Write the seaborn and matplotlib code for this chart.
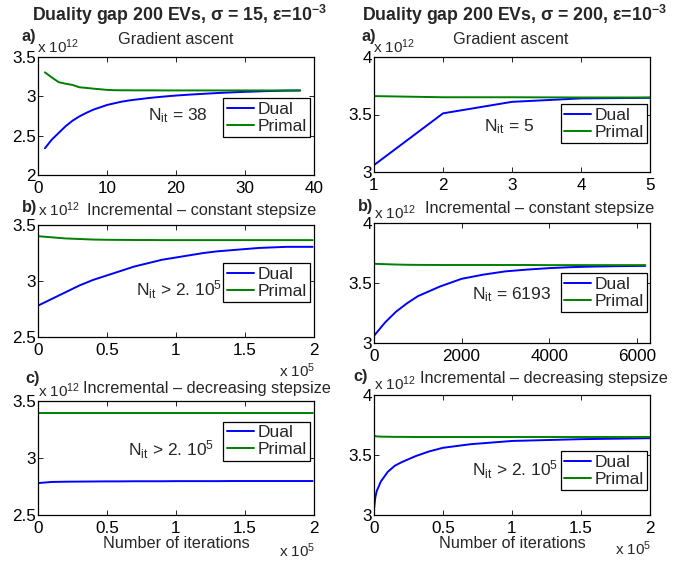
import matplotlib
matplotlib.use("Agg")
import matplotlib.pyplot as plt
import seaborn as sns
from matplotlib.ticker import FuncFormatter, FixedLocator

# ---------------- data (y in units of 1e12) ----------------
# Column 1: sigma = 15
ga15_iter = list(range(1, 39))
ga15_dual = [2.34, 2.45, 2.535, 2.62, 2.69, 2.745, 2.79, 2.83, 2.86, 2.89,
             2.91, 2.93, 2.945, 2.957, 2.967, 2.978, 2.987, 2.995, 3.003, 3.01,
             3.016, 3.022, 3.027, 3.032, 3.037, 3.042, 3.046, 3.05, 3.054, 3.057,
             3.06, 3.063, 3.066, 3.068, 3.07, 3.072, 3.073, 3.074]
ga15_primal = [3.305, 3.24, 3.18, 3.16, 3.145, 3.115, 3.107, 3.098, 3.09, 3.082,
               3.078, 3.077, 3.077, 3.076, 3.076, 3.076, 3.076, 3.075, 3.075, 3.075,
               3.075, 3.075, 3.075, 3.075, 3.075, 3.075, 3.075, 3.075, 3.075, 3.075,
               3.075, 3.075, 3.075, 3.075, 3.075, 3.075, 3.075, 3.075]

inc15_iter = [0.0, 0.1, 0.2, 0.3, 0.4, 0.5, 0.6, 0.7, 0.8, 0.9, 1.0,
              1.1, 1.2, 1.3, 1.4, 1.5, 1.6, 1.7, 1.8, 1.9, 1.99]   # x 1e5
inc15c_dual = [2.78, 2.84, 2.90, 2.96, 3.01, 3.05, 3.09, 3.13, 3.16, 3.19, 3.21,
               3.23, 3.25, 3.265, 3.275, 3.285, 3.295, 3.30, 3.305, 3.305, 3.305]
inc15c_primal = [3.40, 3.39, 3.38, 3.375, 3.37, 3.368, 3.367, 3.366, 3.366, 3.365, 3.365,
                 3.365, 3.365, 3.365, 3.365, 3.365, 3.365, 3.365, 3.365, 3.365, 3.365]
inc15d_dual = [2.78, 2.79, 2.792, 2.793, 2.794, 2.795, 2.795, 2.796, 2.796, 2.796, 2.797,
               2.797, 2.797, 2.797, 2.798, 2.798, 2.798, 2.798, 2.798, 2.798, 2.798]
inc15d_primal = [3.395, 3.395, 3.395, 3.395, 3.395, 3.395, 3.395, 3.395, 3.395, 3.395, 3.395,
                 3.395, 3.395, 3.395, 3.395, 3.395, 3.395, 3.395, 3.395, 3.395, 3.395]

# Column 2: sigma = 200
ga200_iter = [1, 2, 3, 4, 5]
ga200_dual = [3.06, 3.51, 3.61, 3.64, 3.645]
ga200_primal = [3.66, 3.65, 3.65, 3.648, 3.648]

inc200c_iter = [0, 250, 500, 750, 1000, 1500, 2000, 2500, 3000, 3500,
                4000, 4500, 5000, 5500, 6000, 6193]
inc200c_dual = [3.06, 3.17, 3.26, 3.33, 3.39, 3.47, 3.535, 3.57, 3.597, 3.612,
                3.624, 3.632, 3.637, 3.64, 3.642, 3.643]
inc200c_primal = [3.66, 3.657, 3.654, 3.652, 3.651, 3.65, 3.65, 3.65, 3.65, 3.65,
                  3.649, 3.649, 3.649, 3.649, 3.649, 3.649]

inc200d_iter = [0.0, 0.01, 0.02, 0.05, 0.1, 0.15, 0.2, 0.3, 0.4, 0.5,
                0.7, 1.0, 1.5, 2.0]   # x 1e5
inc200d_dual = [3.05, 3.15, 3.20, 3.28, 3.36, 3.41, 3.44, 3.49, 3.53, 3.56,
                3.59, 3.617, 3.632, 3.64]
inc200d_primal = [3.66, 3.657, 3.655, 3.653, 3.652, 3.651, 3.651, 3.65, 3.65, 3.65,
                  3.65, 3.65, 3.65, 3.65]

# ---------------- style ----------------
sns.set_theme(style="ticks")
plt.rcParams['font.family'] = ['Liberation Sans', 'DejaVu Sans']
plt.rcParams['mathtext.fontset'] = 'custom'
plt.rcParams['mathtext.rm'] = 'Liberation Sans'
plt.rcParams['mathtext.it'] = 'Liberation Sans:italic'
plt.rcParams['mathtext.bf'] = 'Liberation Sans:bold'
plt.rcParams['axes.linewidth'] = 0.8
plt.rcParams['axes.edgecolor'] = 'black'

W, H = 689, 562
fig = plt.figure(figsize=(W / 100, H / 100), dpi=100)
fig.patch.set_facecolor('white')

BLUE = '#0000ff'
GREEN = '#008000'
TXT = 11.7      # titles
TICK = 12.3     # tick labels
LEG = 12.5      # legend / N_it
EXPF = 11       # "x 10^n" multipliers


def add_ax(x0, y0, x1, y1):
    return fig.add_axes([x0 / W, 1 - y1 / H, (x1 - x0) / W, (y1 - y0) / H])


def ftext(x, y, s, **kw):
    kw.setdefault('fontsize', TXT)
    fig.text(x / W, 1 - y / H, s, **kw)


fmt = FuncFormatter(lambda v, p: '%g' % v)


def panel(ax, x, dual, primal, xlim, ylim, xticks, yticks, leg_anchor, ntxt, npos):
    sns.lineplot(x=x, y=dual, ax=ax, color=BLUE, lw=1.4, label='Dual')
    sns.lineplot(x=x, y=primal, ax=ax, color=GREEN, lw=1.4, label='Primal')
    ax.set_xlim(*xlim)
    ax.set_ylim(*ylim)
    ax.xaxis.set_major_locator(FixedLocator(xticks))
    ax.yaxis.set_major_locator(FixedLocator(yticks))
    ax.xaxis.set_major_formatter(fmt)
    ax.yaxis.set_major_formatter(fmt)
    ax.tick_params(direction='in', top=True, right=True, length=3.5, width=0.6,
                   labelsize=TICK, pad=1.5, colors='black')
    ax.tick_params(axis='x', pad=4)
    for s in ax.spines.values():
        s.set_visible(True)
        s.set_color('black')
        s.set_linewidth(0.9)
    ax.set_xlabel('')
    ax.set_ylabel('')
    leg = ax.legend(loc='upper right', bbox_to_anchor=leg_anchor, frameon=True,
                    fancybox=False, framealpha=1, edgecolor='black', fontsize=LEG,
                    handlelength=1.55, handletextpad=0.2, borderpad=0.2,
                    labelspacing=0.1, borderaxespad=0)
    leg.get_frame().set_linewidth(0.9)
    ax.text(npos[0], npos[1], ntxt, transform=ax.transAxes, fontsize=LEG,
            ha='left', va='center')


# Column 1
ax1 = add_ax(38, 57, 314, 175)
panel(ax1, ga15_iter, ga15_dual, ga15_primal, (0, 40), (2, 3.5), [0, 10, 20, 30, 40],
      [2, 2.5, 3, 3.5], (0.985, 0.65), r'N$_{\mathrm{it}}$ = 38', (0.40, 0.50))
ax2 = add_ax(38, 225, 314, 337)
panel(ax2, inc15_iter, inc15c_dual, inc15c_primal, (0, 2), (2.5, 3.5),
      [0, 0.5, 1, 1.5, 2], [2.5, 3, 3.5], (0.985, 0.66),
      r'N$_{\mathrm{it}}$ > 2. 10$^{5}$', (0.355, 0.42))
ax3 = add_ax(38, 401, 314, 515)
panel(ax3, inc15_iter, inc15d_dual, inc15d_primal, (0, 2), (2.5, 3.5),
      [0, 0.5, 1, 1.5, 2], [2.5, 3, 3.5], (0.985, 0.82),
      r'N$_{\mathrm{it}}$ > 2. 10$^{5}$', (0.325, 0.57))

# Column 2
ax4 = add_ax(374, 57, 650, 172)
panel(ax4, ga200_iter, ga200_dual, ga200_primal, (1, 5), (3, 4), [1, 2, 3, 4, 5],
      [3, 3.5, 4], (0.99, 0.59), r'N$_{\mathrm{it}}$ = 5', (0.40, 0.39))
ax5 = add_ax(374, 223, 650, 343)
panel(ax5, inc200c_iter, inc200c_dual, inc200c_primal, (0, 6300), (3, 4),
      [0, 2000, 4000, 6000], [3, 3.5, 4], (0.99, 0.58),
      r'N$_{\mathrm{it}}$ = 6193', (0.355, 0.40))
ax6 = add_ax(374, 395, 650, 515)
panel(ax6, inc200d_iter, inc200d_dual, inc200d_primal, (0, 2), (3, 4),
      [0, 0.5, 1, 1.5, 2], [3, 3.5, 4], (0.99, 0.53),
      r'N$_{\mathrm{it}}$ > 2. 10$^{5}$', (0.355, 0.375))

# ---------------- texts ----------------
ftext(179, 15, r'Duality gap 200 EVs, σ = 15, ε=10$^{\mathbf{-3}}$', fontsize=12.8,
      fontweight='bold', ha='center', va='center')
ftext(514, 15, r'Duality gap 200 EVs, σ = 200, ε=10$^{\mathbf{-3}}$', fontsize=12.8,
      fontweight='bold', ha='center', va='center')

EXP12 = r'x 10$^{12}$'
EXP5 = r'x 10$^{5}$'

# left column labels
ftext(22, 37, 'a)', fontweight='bold', fontsize=TXT, ha='left', va='center')
ftext(37, 53, EXP12, fontsize=EXPF, ha='left', va='baseline')
ftext(118, 39, 'Gradient ascent', ha='left', va='center')

ftext(22, 208, 'b)', fontweight='bold', fontsize=TXT, ha='left', va='center')
ftext(38, 216, EXP12, fontsize=EXPF, ha='left', va='baseline')
ftext(87, 215, 'Incremental – constant stepsize', ha='left', va='baseline')
ftext(279, 377, EXP5, fontsize=EXPF, ha='left', va='baseline')

ftext(25, 378, 'c)', fontweight='bold', fontsize=TXT, ha='left', va='center')
ftext(38, 397, EXP12, fontsize=EXPF, ha='left', va='baseline')
ftext(83, 393, 'Incremental – decreasing stepsize', ha='left', va='baseline')
ftext(176, 548, 'Number of iterations', ha='center', va='baseline')
ftext(279, 557, EXP5, fontsize=EXPF, ha='left', va='baseline')

# right column labels
ftext(361, 37, 'a)', fontweight='bold', fontsize=TXT, ha='left', va='center')
ftext(373, 53, EXP12, fontsize=EXPF, ha='left', va='baseline')
ftext(453, 40, 'Gradient ascent', ha='left', va='center')

ftext(358, 207, 'b)', fontweight='bold', fontsize=TXT, ha='left', va='center')
ftext(374, 219, EXP12, fontsize=EXPF, ha='left', va='baseline')
ftext(425, 213, 'Incremental – constant stepsize', ha='left', va='baseline')

ftext(353, 377, 'c)', fontweight='bold', fontsize=TXT, ha='left', va='center')
ftext(374, 390, EXP12, fontsize=EXPF, ha='left', va='baseline')
ftext(420, 383, 'Incremental – decreasing stepsize', ha='left', va='baseline')
ftext(512, 548, 'Number of iterations', ha='center', va='baseline')
ftext(615, 555, EXP5, fontsize=EXPF, ha='left', va='baseline')

fig.savefig('out.png', dpi=100, facecolor='white')
